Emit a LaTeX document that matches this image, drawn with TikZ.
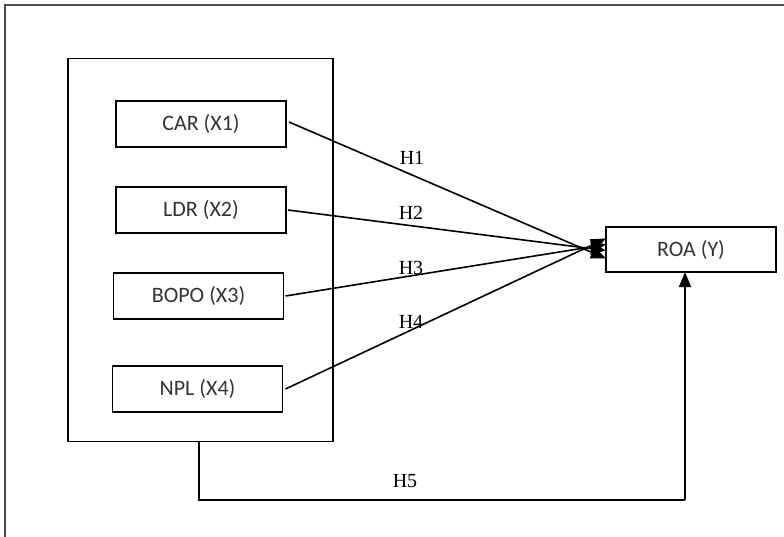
\documentclass[tikz,border=0pt]{standalone}
\usepackage{fontspec}
\setmainfont{Carlito}
\newfontfamily\tnrfont{Liberation Serif}
\usetikzlibrary{arrows.meta}
\begin{document}
\begin{tikzpicture}[x=1pt,y=-1pt,
  varbox/.style={draw=black,line width=1.7pt,rectangle,minimum width=170pt,minimum height=46pt,inner sep=0pt,outer sep=0pt,font=\fontsize{22}{26}\selectfont,text=black!80},
  hlabel/.style={font=\tnrfont\fontsize{20}{24}\selectfont,inner sep=0pt},
  conn/.style={line width=1.6pt,-{Triangle[length=15pt,width=12pt]}},
  frame/.style={draw=black!70,line width=2.2pt}]
\useasboundingbox (0,0) rectangle (784,537);
% outer frame (only top and left visible)
\draw[frame] (784,5) -- (5,5) -- (5,537);
% group box
\node[draw=black,line width=1.7pt,minimum width=265pt,minimum height=383pt,inner sep=0pt,outer sep=0pt] (group) at (200.5,250) {};
\node[varbox] (car) at (201,124) {CAR (X1)};
\node[varbox] (ldr) at (201,210) {LDR (X2)};
\node[varbox] (bopo) at (198.5,296) {BOPO (X3)};
\node[varbox] (npl) at (197.5,389) {NPL (X4)};
\node[varbox,minimum height=45pt] (roa) at (691,249.5) {ROA (Y)};
% arrow end points on ROA
\coordinate (t1) at ([yshift=-9pt]roa.west);
\coordinate (t2) at ([yshift=-1pt]roa.west);
\coordinate (t3) at ([yshift=5pt]roa.west);
\coordinate (t4) at ([yshift=11pt]roa.west);
\draw[conn] ([xshift=3pt,yshift=2pt]car.east) -- (t1);
\draw[conn] ([xshift=2pt]ldr.east) -- (t2);
\draw[conn] ([xshift=2pt]bopo.east) -- (t3);
\draw[conn] ([xshift=3pt]npl.east) -- (t4);
\node[hlabel] (h1) at (412,158) {H1};
\node[hlabel] (h2) at (411,213) {H2};
\node[hlabel] (h3) at (411,268) {H3};
\node[hlabel] (h4) at (411,322) {H4};
% H5 path
\coordinate (c1) at (199,500);
\coordinate (c2) at (685,500);
\draw[line width=1.6pt] (group.south -| c1) -- (c1) -- (c2);
\draw[conn] (c2) -- (roa.south -| c2);
\node[hlabel] (h5) at (405,481) {H5};
\end{tikzpicture}
\end{document}
